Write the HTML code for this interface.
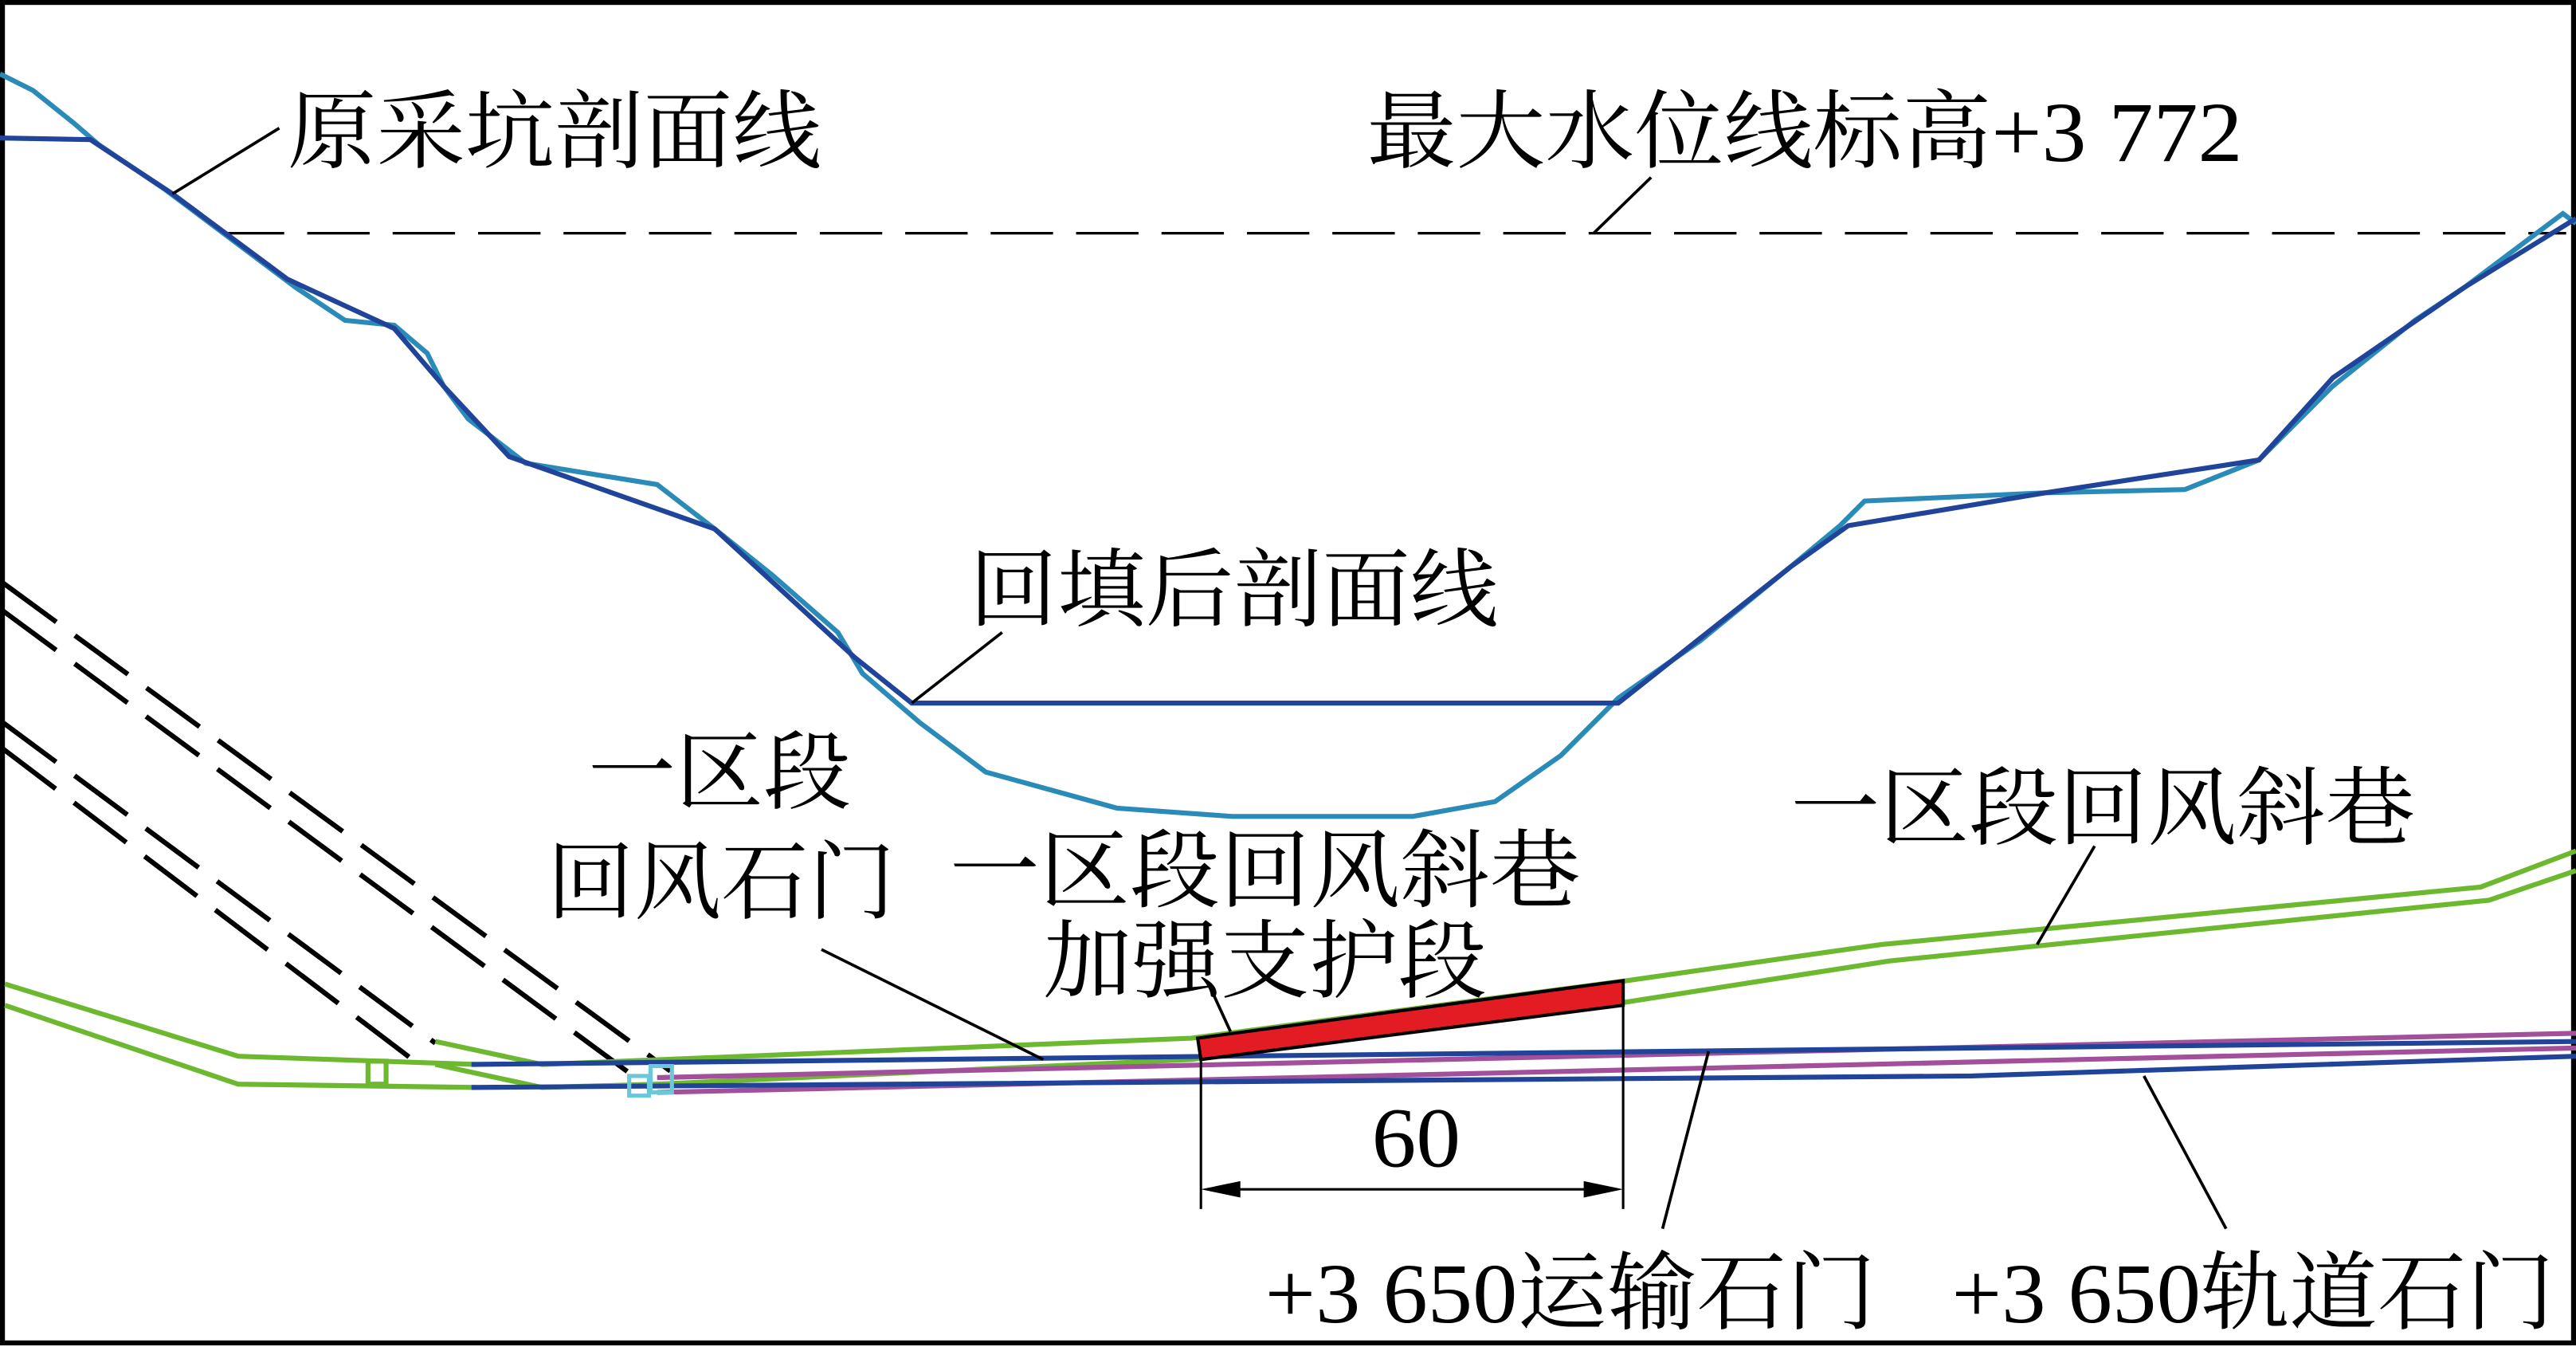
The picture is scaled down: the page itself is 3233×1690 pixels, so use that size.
<!DOCTYPE html>
<html><head><meta charset="utf-8"><style>
html,body{margin:0;padding:0;background:#fff;}
svg{display:block;}
text{font-family:"Liberation Serif","Noto Serif CJK SC",serif;fill:#000;}
</style></head><body>
<svg width="3233" height="1690" viewBox="0 0 1568 820" preserveAspectRatio="none" xmlns="http://www.w3.org/2000/svg">
<rect x="0" y="0" width="1568" height="820" fill="#fff"/>
<rect x="1.5" y="1.5" width="1565" height="816" fill="none" stroke="#000" stroke-width="3"/>

<!-- water level dashed -->
<line x1="135" y1="142" x2="1562" y2="142" stroke="#000" stroke-width="1.6" stroke-dasharray="38,14"/>

<!-- original pit profile -->
<polyline fill="none" stroke="#2a8bb8" stroke-width="3" points="0,45 20,55 45,75 60,88 100,115 140,145 180,175 210,195 240,198 260,215 270,235 285,255 320,282 400,295 435,322 470,350 510,385 525,410 560,440 600,470 680,492 750,497 860,497 910,488 950,460 985,425 1035,390 1090,345 1120,320 1135,305 1245,300 1330,298 1375,280 1420,235 1470,195 1500,175 1560,130 1568,136"/>
<!-- backfill profile -->
<polyline fill="none" stroke="#1f449a" stroke-width="3" points="0,84 55,85 105,118 175,170 240,200 270,235 310,278 435,322 520,400 555,428 985,428 1090,345 1125,320 1245,300 1375,280 1420,230 1500,175 1568,133"/>

<!-- dashed black inclines -->
<g stroke="#000" stroke-width="3" stroke-dasharray="40,14" fill="none">
<line x1="2" y1="355" x2="408" y2="652"/>
<line x1="2" y1="372" x2="395" y2="662"/>
<line x1="2" y1="440" x2="265" y2="635"/>
<line x1="2" y1="456" x2="255" y2="648"/>
</g>

<!-- green airways -->
<g stroke="#6cb82e" stroke-width="3" fill="none">
<polyline points="3,599 145,643 290,648"/>
<polyline points="3,612 145,660 290,662"/>
<polyline points="265,634 330,648 725,632 990,597 1145,575 1510,540 1568,518"/>
<polyline points="265,648 330,662 400,660 725,645 990,610 1150,585 1515,548 1568,530"/>
<rect x="224" y="646" width="11" height="14"/>
</g>

<!-- purple & blue -->
<g fill="none" stroke-width="3">
<polyline stroke="#a24f9c" points="400,656 1568,629"/>
<polyline stroke="#a24f9c" points="400,665 1568,638"/>
<polyline stroke="#1f449a" points="287,648 1568,634"/>
<polyline stroke="#1f449a" points="287,662 1200,655 1568,643"/>
</g>
<g fill="none" stroke="#6cc7d8" stroke-width="2.5">
<rect x="383" y="655" width="12" height="12"/>
<rect x="396" y="649" width="13" height="16"/>
</g>

<!-- red reinforcement -->
<polygon points="729,632 988,597 988,612 731,645" fill="#e31c23" stroke="#000" stroke-width="2"/>

<!-- dimension -->
<g stroke="#000" stroke-width="1.5">
<line x1="731" y1="645" x2="731" y2="736"/>
<line x1="988" y1="597" x2="988" y2="736"/>
<line x1="740" y1="724" x2="979" y2="724"/>
</g>
<polygon points="731,724 755,719 755,729" fill="#000"/>
<polygon points="988,724 964,719 964,729" fill="#000"/>

<!-- leaders -->
<g stroke="#000" stroke-width="1.8">
<line x1="170" y1="78" x2="105" y2="118"/>
<line x1="1005" y1="108" x2="970" y2="142"/>
<line x1="610" y1="385" x2="555" y2="428"/>
<line x1="500" y1="578" x2="635" y2="645"/>
<line x1="1275" y1="515" x2="1240" y2="575"/>
<line x1="738" y1="604" x2="749" y2="628"/>
<line x1="1012" y1="748" x2="1040" y2="640"/>
<line x1="1355" y1="748" x2="1305" y2="655"/>
</g>

<!-- labels -->
<g font-size="52">
<text x="175" y="98" textLength="325" lengthAdjust="spacingAndGlyphs">原采坑剖面线</text>
<text x="832" y="98" textLength="533" lengthAdjust="spacingAndGlyphs">最大水位线标高+3 772</text>
<text x="590" y="377" textLength="322" lengthAdjust="spacingAndGlyphs">回填后剖面线</text>
<text x="358" y="488" textLength="160" lengthAdjust="spacingAndGlyphs">一区段</text>
<text x="333" y="555" textLength="212" lengthAdjust="spacingAndGlyphs">回风石门</text>
<text x="578" y="548" textLength="384" lengthAdjust="spacingAndGlyphs">一区段回风斜巷</text>
<text x="635" y="603" textLength="270" lengthAdjust="spacingAndGlyphs">加强支护段</text>
<text x="1090" y="510" textLength="380" lengthAdjust="spacingAndGlyphs">一区段回风斜巷</text>
<text x="770" y="805" textLength="372" lengthAdjust="spacingAndGlyphs">+3 650运输石门</text>
<text x="1188" y="805" textLength="367" lengthAdjust="spacingAndGlyphs">+3 650轨道石门</text>
<text x="835" y="710" textLength="54" lengthAdjust="spacingAndGlyphs">60</text>
</g>
</svg>
</body></html>
